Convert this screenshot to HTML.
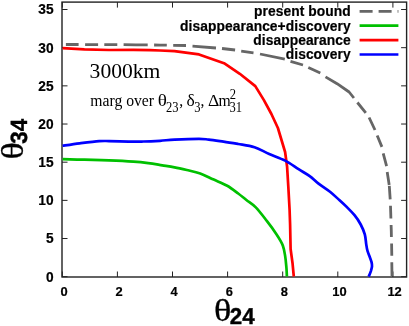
<!DOCTYPE html>
<html><head><meta charset="utf-8"><style>
html,body{margin:0;padding:0;background:#fff}
svg{display:block;will-change:transform}
.gp{text-rendering:geometricPrecision}
.b{font-family:"Liberation Sans",sans-serif;font-weight:bold;font-size:13.8px;fill:#000;stroke:#000;stroke-width:0.2px}
.s{font-family:"Liberation Serif",serif;fill:#000}
</style></head><body>
<svg width="409" height="326" viewBox="0 0 409 326">
<rect width="409" height="326" fill="#fff"/>
<g stroke="#222" stroke-width="1" fill="none">
<line x1="62.30" y1="277.0" x2="62.30" y2="271.5"/><line x1="62.30" y1="2.1" x2="62.30" y2="7.6"/><line x1="117.40" y1="277.0" x2="117.40" y2="271.5"/><line x1="117.40" y1="2.1" x2="117.40" y2="7.6"/><line x1="172.50" y1="277.0" x2="172.50" y2="271.5"/><line x1="172.50" y1="2.1" x2="172.50" y2="7.6"/><line x1="227.60" y1="277.0" x2="227.60" y2="271.5"/><line x1="227.60" y1="2.1" x2="227.60" y2="7.6"/><line x1="282.70" y1="277.0" x2="282.70" y2="271.5"/><line x1="282.70" y1="2.1" x2="282.70" y2="7.6"/><line x1="337.80" y1="277.0" x2="337.80" y2="271.5"/><line x1="337.80" y1="2.1" x2="337.80" y2="7.6"/><line x1="392.90" y1="277.0" x2="392.90" y2="271.5"/><line x1="392.90" y1="2.1" x2="392.90" y2="7.6"/><line x1="62.0" y1="276.70" x2="67.5" y2="276.70"/><line x1="406.6" y1="276.70" x2="401.1" y2="276.70"/><line x1="62.0" y1="238.53" x2="67.5" y2="238.53"/><line x1="406.6" y1="238.53" x2="401.1" y2="238.53"/><line x1="62.0" y1="200.36" x2="67.5" y2="200.36"/><line x1="406.6" y1="200.36" x2="401.1" y2="200.36"/><line x1="62.0" y1="162.19" x2="67.5" y2="162.19"/><line x1="406.6" y1="162.19" x2="401.1" y2="162.19"/><line x1="62.0" y1="124.02" x2="67.5" y2="124.02"/><line x1="406.6" y1="124.02" x2="401.1" y2="124.02"/><line x1="62.0" y1="85.85" x2="67.5" y2="85.85"/><line x1="406.6" y1="85.85" x2="401.1" y2="85.85"/><line x1="62.0" y1="47.68" x2="67.5" y2="47.68"/><line x1="406.6" y1="47.68" x2="401.1" y2="47.68"/><line x1="62.0" y1="9.51" x2="67.5" y2="9.51"/><line x1="406.6" y1="9.51" x2="401.1" y2="9.51"/>
<rect x="62.0" y="2.1" width="344.6" height="274.9" stroke-width="1.4"/>
</g>
<g fill="none" stroke-linejoin="round">
<path d="M65.9,44.5 L78.6,44.5 M85.1,44.6 L98.1,44.6 M104.3,44.6 L117.3,44.7 M123.6,44.7 L136.0,44.8 L147.7,44.9 M154.1,45.0 L160.0,45.1 L166.8,45.2 M173.2,45.3 L186.0,45.5 M192.5,46.2 L216.0,48.0 M222.0,48.5 L235.1,50.0 M241.2,51.1 L253.5,52.8 M260.0,54.0 L284.8,59.2 M290.5,61.4 L303.0,65.0 M308.3,67.6 L320.3,73.1 M325.5,76.9 L337.1,83.7 L349.1,92.0 L353.9,98.0 M357.4,102.5 L365.8,112.9 M369.1,117.5 L375.0,130.0 M377.2,135.5 L381.9,146.9 M383.2,153.3 L386.6,166.1 M387.2,172.0 L389.2,185.0 M389.3,185.9 L390.2,199.3 M390.5,205.8 L390.7,212.0 L390.9,218.5 M391.1,225.0 L391.3,231.0 L391.4,237.0 M391.6,243.6 L391.7,250.0 L391.8,255.8 M391.8,262.3 L392.0,276.0" stroke="#666" stroke-width="2.8"/>
<path d="M62.6,159.2 C66.2,159.3 76.8,159.5 84.5,159.7 C92.2,159.9 100.8,160.1 109.0,160.4 C117.2,160.7 127.0,161.2 133.5,161.7 C140.0,162.1 143.4,162.5 148.2,163.1 C153.0,163.7 157.9,164.6 162.3,165.3 C166.7,166.0 170.4,166.5 174.5,167.3 C178.6,168.1 182.5,169.0 186.8,170.0 C191.1,171.0 195.7,171.8 200.2,173.4 C204.7,175.0 209.2,177.6 213.7,179.6 C218.2,181.6 223.1,183.4 227.2,185.7 C231.3,188.0 235.0,191.1 238.2,193.5 C241.4,195.9 243.5,197.7 246.4,200.0 C249.3,202.3 252.4,203.9 255.8,207.4 C259.2,210.9 263.3,216.4 266.8,220.9 C270.3,225.4 273.9,230.3 276.6,234.4 C279.3,238.5 281.4,241.7 282.8,245.4 C284.2,249.1 284.6,252.7 285.2,256.4 C285.8,260.1 286.1,264.1 286.4,267.5 C286.7,270.9 286.8,275.0 286.9,276.5" stroke="#00c000" stroke-width="2.7"/>
<path d="M62.6,48.2 L84.4,49.4 L109.0,50.0 L133.3,49.9 L150.0,50.2 L160.0,50.5 L174.5,51.1 L199.0,54.4 L224.0,63.2 L239.8,73.8 L255.3,86.1 L263.9,100.1 L271.4,114.0 L277.9,128.0 L281.5,140.0 L285.1,152.0 L287.1,166.8 L288.3,186.4 L289.6,210.0 L290.1,224.5 L290.6,249.0 L292.6,263.8 L293.8,276.5" stroke="#ff0000" stroke-width="2.7"/>
<path d="M62.6,145.7 C65.4,145.3 73.5,144.1 79.6,143.3 C85.7,142.6 94.3,141.6 99.2,141.2 C104.1,140.8 104.1,141.0 109.0,141.1 C113.9,141.2 122.9,141.5 128.6,141.6 C134.3,141.7 138.1,141.6 143.3,141.5 C148.5,141.4 154.8,141.1 160.0,140.8 C165.2,140.5 168.0,139.9 174.5,139.6 C181.0,139.3 193.3,138.9 199.0,138.9 C204.7,138.9 204.7,139.2 208.8,139.6 C212.9,140.0 218.6,140.9 223.5,141.6 C228.4,142.3 233.0,143.1 238.2,144.0 C243.4,144.9 249.3,145.5 254.5,147.2 C259.7,148.9 264.1,151.8 269.2,154.0 C274.3,156.2 280.2,158.1 285.1,160.6 C290.0,163.1 294.5,166.6 298.6,169.2 C302.7,171.8 306.4,173.7 309.7,176.1 C313.0,178.5 314.8,180.8 318.2,183.4 C321.6,186.0 326.5,189.0 330.0,191.8 C333.5,194.6 336.4,197.4 339.3,200.0 C342.2,202.6 344.7,204.9 347.2,207.4 C349.7,209.9 352.2,212.3 354.5,215.2 C356.8,218.0 359.0,221.3 360.7,224.5 C362.4,227.7 363.9,231.1 364.8,234.4 C365.7,237.7 365.8,241.3 366.2,244.1 C366.6,246.8 366.9,248.9 367.5,250.9 C368.1,252.9 368.8,254.4 369.5,256.3 C370.2,258.2 371.2,260.7 371.6,262.4 C372.0,264.1 372.1,264.9 372.0,266.4 C371.9,267.8 371.4,269.4 370.9,271.1 C370.3,272.8 369.1,275.7 368.7,276.6" stroke="#0000ff" stroke-width="2.7"/>
</g>
<g class="b"><text transform="translate(64.0,295.6) scale(0.95,1)" text-anchor="middle" font-size="13.6">0</text><text transform="translate(119.1,295.6) scale(0.95,1)" text-anchor="middle" font-size="13.6">2</text><text transform="translate(174.2,295.6) scale(0.95,1)" text-anchor="middle" font-size="13.6">4</text><text transform="translate(229.3,295.6) scale(0.95,1)" text-anchor="middle" font-size="13.6">6</text><text transform="translate(284.4,295.6) scale(0.95,1)" text-anchor="middle" font-size="13.6">8</text><text transform="translate(339.5,295.6) scale(0.95,1)" text-anchor="middle" font-size="13.6">10</text><text transform="translate(394.6,295.6) scale(0.95,1)" text-anchor="middle" font-size="13.6">12</text><text transform="translate(53.6,281.6) scale(0.96,1)" text-anchor="end" font-size="14.3">0</text><text transform="translate(53.6,243.4) scale(0.96,1)" text-anchor="end" font-size="14.3">5</text><text transform="translate(53.6,205.3) scale(0.96,1)" text-anchor="end" font-size="14.3">10</text><text transform="translate(53.6,167.1) scale(0.96,1)" text-anchor="end" font-size="14.3">15</text><text transform="translate(53.6,128.9) scale(0.96,1)" text-anchor="end" font-size="14.3">20</text><text transform="translate(53.6,90.7) scale(0.96,1)" text-anchor="end" font-size="14.3">25</text><text transform="translate(53.6,52.6) scale(0.96,1)" text-anchor="end" font-size="14.3">30</text><text transform="translate(53.6,14.4) scale(0.96,1)" text-anchor="end" font-size="14.3">35</text><text x="350.8" y="16.2" text-anchor="end" font-size="13.8" letter-spacing="0.07">present bound</text><line x1="359.6" y1="11.3" x2="398.4" y2="11.3" stroke="#666" stroke-width="2.8" stroke-dasharray="13 6"/><text x="350.8" y="30.6" text-anchor="end" font-size="13.8" letter-spacing="0.07">disappearance+discovery</text><line x1="359.6" y1="25.7" x2="398.4" y2="25.7" stroke="#00c000" stroke-width="2.7"/><text x="350.8" y="45.0" text-anchor="end" font-size="13.8" letter-spacing="0.07">disappearance</text><line x1="359.6" y1="40.1" x2="398.4" y2="40.1" stroke="#ff0000" stroke-width="2.7"/><text x="350.8" y="59.4" text-anchor="end" font-size="13.8" letter-spacing="0.07">discovery</text><line x1="359.6" y1="54.5" x2="398.4" y2="54.5" stroke="#0000ff" stroke-width="2.7"/></g>
<g class="s">
<text x="89.6" y="77.8" font-size="21.6">3000km</text>
<text x="90.3" y="106" font-size="15.7">marg over</text>
<text transform="translate(157.8,106) scale(1.18,1)" font-size="16.2">θ</text>
<text transform="translate(166.1,111.6) scale(0.87,1)" font-size="14.4">23</text>
<text x="179.3" y="106" font-size="15.7">,</text>
<text transform="translate(186.4,106) scale(1.1,1)" font-size="16">δ</text>
<text transform="translate(194.2,111.6) scale(0.87,1)" font-size="14.4">3</text>
<text x="200.6" y="106" font-size="15.7">,</text>
<text transform="translate(207.9,106) scale(1.12,1)" font-size="15.7">Δ</text>
<text x="218.4" y="106" font-size="15.7">m</text>
<text transform="translate(229.8,98.8) scale(0.87,1)" font-size="14.4">2</text>
<text transform="translate(229.6,111.6) scale(0.87,1)" font-size="14.4">31</text>
<text transform="translate(214,321) scale(1.18,1)" font-size="30.6" stroke="#000" stroke-width="0.3">θ</text>
<text transform="translate(22.5,159.6) rotate(-90) scale(1.18,1)" font-size="30.6" stroke="#000" stroke-width="0.3">θ</text>
</g>
<g class="b">
<text class="gp" transform="translate(229.8,324.4) scale(0.975,1)" font-size="22.9" stroke="#000" stroke-width="0.4">24</text>
<text class="gp" transform="translate(27.0,143.7) rotate(-90) scale(0.95,1)" font-size="23.5" stroke="#000" stroke-width="0.4">34</text>
</g>
</svg>
</body></html>
